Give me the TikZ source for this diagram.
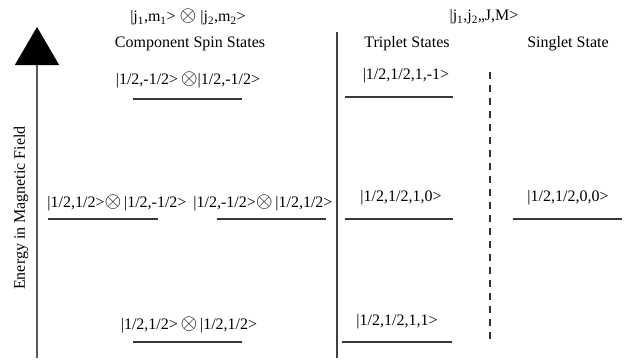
\documentclass[tikz,border=0pt]{standalone}
\usepackage{fontspec}
\setmainfont{Liberation Serif}
\usetikzlibrary{arrows.meta}
\newcommand{\ox}{\scalebox{1.25}{$\otimes$}}
\begin{document}
\begin{tikzpicture}[x=1pt,y=-1pt,
    lbl/.style={font=\fontsize{16}{19}\selectfont, inner sep=0pt},
    level/.style={line width=1.4pt, draw=black!78}]
  \useasboundingbox (0,0) rectangle (628,360);
  % energy axis
  \coordinate (ax0) at (37,358);
  \coordinate (ax1) at (37,27);
  \draw[line width=1.5pt, black!65,
        -{Triangle[width=44pt,length=38pt,color=black]}] (ax0) -- (ax1);
  \node[lbl, rotate=90] (field) at (21,208) {Energy in Magnetic Field};
  % dividers
  \draw[line width=1.3pt, black!75] (337,32) -- (337,358);
  \draw[line width=1.2pt, black!80, dash pattern=on 7pt off 6pt] (490,72) -- (490,342);
  % headings
  \node[lbl] (hcomp) at (188,17)
    {|j\textsubscript{1},m\textsubscript{1}> \ox\ |j\textsubscript{2},m\textsubscript{2}>};
  \node[lbl] (hcoup) at (484,17)
    {|j\textsubscript{1},j\textsubscript{2},,J,M>};
  \node[lbl] (comp) at (190,44) {Component Spin States};
  \node[lbl] (trip) at (407,44) {Triplet States};
  \node[lbl] (sing) at (568,44) {Singlet State};
  % component levels
  \node[lbl] (cs1) at (188,80) {|1/2,-1/2>\,\ox|1/2,-1/2>};
  \draw[level] (133,99) -- (242,99);
  \node[lbl] (cs2) at (117,203) {|1/2,1/2>\ox\,|1/2,-1/2>};
  \draw[level] (48,219) -- (158,219);
  \node[lbl] (cs3) at (263,203) {|1/2,-1/2>\ox\,|1/2,1/2>};
  \draw[level] (217,219) -- (326,219);
  \node[lbl] (cs4) at (189,325) {|1/2,1/2>\,\ox\,|1/2,1/2>};
  \draw[level] (133,342) -- (242,342);
  % triplet levels
  \node[lbl] (t1) at (406,76) {|1/2,1/2,1,-1>};
  \draw[level] (345,97) -- (453,97);
  \node[lbl] (t2) at (401,198) {|1/2,1/2,1,0>};
  \draw[level] (345,219) -- (453,219);
  \node[lbl] (t3) at (397,322) {|1/2,1/2,1,1>};
  \draw[level] (342,342) -- (452,342);
  % singlet level
  \node[lbl] (s1) at (568,198) {|1/2,1/2,0,0>};
  \draw[level] (513,219) -- (622,219);
\end{tikzpicture}
\end{document}
